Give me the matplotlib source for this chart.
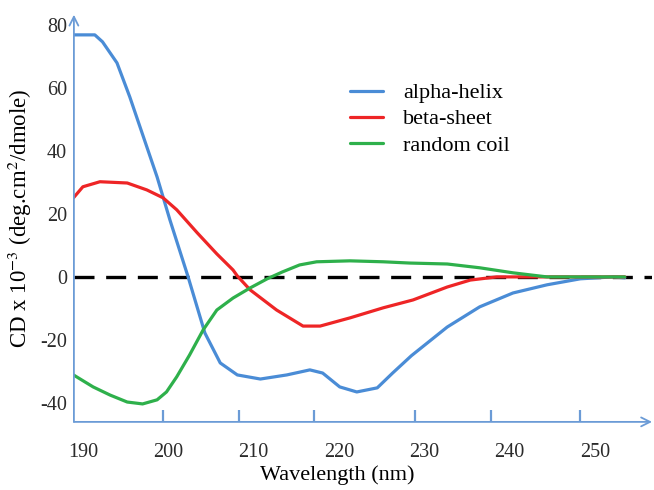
import matplotlib
matplotlib.use("Agg")
import matplotlib.pyplot as plt

# ---------- data ----------
wl_helix = [188.9, 191.4, 192.3, 194.0, 195.5, 197.1, 198.7, 200.2, 202.3, 204.3, 206.1,
            208.1, 210.8, 213.9, 216.6, 218.1, 220.1, 222.1, 224.5, 226.3, 228.5, 232.7, 236.5,
            240.4, 244.4, 248.3, 252.1, 253.5]
cd_helix = [76.8, 76.8, 74.6, 67.9, 57.1, 44.4, 31.7, 18.1, 0.3, -17.8, -27.3,
            -31.1, -32.4, -31.1, -29.5, -30.5, -34.9, -36.5, -35.2, -30.5, -25.0, -15.9, -9.5,
            -5.1, -2.5, -0.6, 0.0, -0.3]

wl_beta = [188.9, 190.0, 192.0, 195.2, 197.5, 199.4, 201.0, 203.4, 205.7, 207.6, 208.1, 209.6,
           212.7, 215.8, 217.8, 221.3, 225.2, 228.7, 232.7, 235.4, 238.5, 253.5]
cd_beta = [25.1, 28.6, 30.2, 29.8, 27.6, 25.1, 21.3, 14.0, 7.3, 2.2, 0.3, -4.1,
           -10.5, -15.6, -15.6, -13.0, -9.8, -7.3, -3.2, -1.0, 0.0, 0.0]

wl_coil = [188.9, 191.2, 193.2, 195.2, 197.0, 198.7, 199.8, 201.0, 202.5, 204.1, 205.7, 207.6,
           209.6, 211.6, 213.4, 215.4, 217.4, 221.3, 225.2, 228.3, 232.7, 236.5, 240.4, 244.4, 253.5]
cd_coil = [-31.1, -34.9, -37.5, -39.7, -40.3, -39.0, -36.5, -31.7, -24.8, -16.8, -10.5, -6.7,
           -3.5, -0.6, 1.6, 3.8, 4.8, 5.1, 4.8, 4.4, 4.1, 2.9, 1.3, 0.0, 0.0]

labels = ["alpha-helix", "beta-sheet", "random coil"]
xtick_labels = [190, 200, 210, 220, 230, 240, 250]
xtick_marks = [199.4, 208.3, 217.1, 228.9, 237.8, 248.3]   # drawn slightly off in the original
ytick_labels = [80, 60, 40, 20, 0, -20, -40]
ytick_marks = [60, 40, 20, -20, -40]

# ---------- style ----------
plt.rcParams["font.family"] = ["Liberation Serif", "DejaVu Serif"]
plt.rcParams["mathtext.fontset"] = "stix"
plt.rcParams["axes.unicode_minus"] = False
AXC = "#6b9bd6"
TXT = "#2b2b2b"
colors = ["#4a8cd6", "#ee2526", "#2eb04b"]

fig = plt.figure(figsize=(6.54, 4.90), dpi=100)
ax = fig.add_axes([0.113, 0.139, 0.884, 0.831])

ax.axhline(0, color="black", lw=2.4, dashes=(6, 3.5), zorder=1)
for wl, cd, c, lab in zip([wl_helix, wl_beta, wl_coil], [cd_helix, cd_beta, cd_coil], colors, labels):
    ax.plot(wl, cd, color=c, lw=2.3, label=lab, solid_capstyle="round", solid_joinstyle="round", zorder=3)

ax.set_xlim(188.95, 256.7)
ax.set_ylim(-46, 83.2)

# axes as arrows
for s in ax.spines.values(): s.set_visible(False)
ax.annotate("", xy=(1.0, 0), xytext=(0, 0), xycoords="axes fraction",
            arrowprops=dict(arrowstyle="->", color=AXC, lw=1.3, mutation_scale=16, shrinkA=0, shrinkB=0))
ax.annotate("", xy=(0, 1.0), xytext=(0, 0), xycoords="axes fraction",
            arrowprops=dict(arrowstyle="->", color=AXC, lw=1.3, mutation_scale=16, shrinkA=0, shrinkB=0))

ax.set_xticks(xtick_labels)
ax.set_xticks(xtick_marks, minor=True)
ax.set_yticks(ytick_labels)
ax.set_yticks(ytick_marks, minor=True)
ax.tick_params(which="major", length=0, labelsize=14.5, labelcolor=TXT)
ax.tick_params(axis="x", which="major", pad=15)
ax.tick_params(axis="y", which="major", pad=5)
ax.tick_params(which="minor", direction="in", length=9, width=1.6, color=AXC)

# axis titles placed in figure pixels, as in the original layout
fig.text(337 / 654, 1 - 475 / 490, "Wavelength (nm)", fontsize=16, ha="center", va="center")
fig.text(20 / 654, 1 - 218 / 490, "CD x 10$^{-3}$ (deg.cm$^2$/dmole)", fontsize=16.5,
         rotation=90, ha="center", va="center")

ax.legend(loc="upper left", bbox_to_anchor=(0.443, 0.882), frameon=False, fontsize=16,
          handlelength=1.5, handletextpad=0.9, labelspacing=0.25)

fig.savefig("out.png", dpi=100)
